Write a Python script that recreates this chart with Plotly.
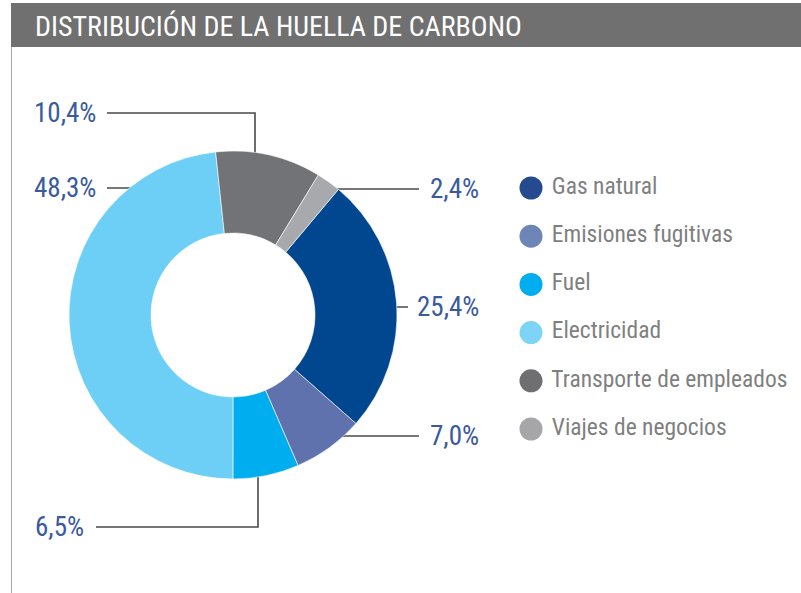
import plotly.graph_objects as go

# ---- data ----
categories = ["Gas natural", "Emisiones fugitivas", "Fuel", "Electricidad",
              "Transporte de empleados", "Viajes de negocios"]
values = [25.4, 7.0, 6.5, 48.3, 10.4, 2.4]
slice_colors = ["#00478f", "#5f72ae", "#00adef", "#6dcff6", "#727376", "#a7a9ac"]
legend_colors = ["#254a90", "#6e86b7", "#00aeef", "#7dd4f7", "#6f6f71", "#a6a6a8"]
title_text = "DISTRIBUCIÓN DE LA HUELLA DE CARBONO"

W, H = 801, 593
FONT = "Liberation Sans Narrow, Roboto Condensed, Arial Narrow, sans-serif"

# ---- layout helpers (pixel layout of the donut and label leaders) ----
cx, cy, R = 233, 315, 164
leaders = {
    "Gas natural":            dict(tx=415, ty=307, side="left",  pts=[(367, 307), (408, 307)]),
    "Emisiones fugitivas":    dict(tx=428, ty=436, side="left",  pts=[(318, 436), (419, 436)]),
    "Fuel":                   dict(tx=86,  ty=527, side="right", pts=[(96, 527), (258, 527), (258, 454)]),
    "Electricidad":           dict(tx=98,  ty=188, side="right", pts=[(107, 188), (157, 188)]),
    "Transporte de empleados": dict(tx=98, ty=113, side="right", pts=[(107, 113), (255, 113), (255, 173)]),
    "Viajes de negocios":     dict(tx=428, ty=189, side="left",  pts=[(318, 189), (419, 189)]),
}

fig = go.Figure()

fig.add_trace(go.Pie(
    labels=categories, values=values, hole=0.5, sort=False,
    direction="clockwise", rotation=40,
    marker=dict(colors=slice_colors, line=dict(color="white", width=0.6)),
    textinfo="none", showlegend=False,
    domain=dict(x=[(cx - R) / W, (cx + R) / W], y=[(H - cy - R) / H, (H - cy + R) / H]),
))

for cat in categories:
    L = leaders[cat]
    xs = [p[0] for p in L["pts"]]
    ys = [p[1] for p in L["pts"]]
    fig.add_trace(go.Scatter(x=xs, y=ys, mode="lines", xaxis="x", yaxis="y",
                             line=dict(color="#4a4a4a", width=1.6),
                             hoverinfo="skip", showlegend=False))

for cat, v in zip(categories, values):
    L = leaders[cat]
    fig.add_annotation(x=L["tx"], y=L["ty"], xref="x", yref="y",
                       text=f"{v:.1f}".replace(".", ",") + "%",
                       showarrow=False, xanchor=L["side"], yanchor="middle",
                       font=dict(family=FONT, size=27, color="#3a5a9e"))

# custom legend (circles + text) on its own categorical axis
fig.add_trace(go.Scatter(
    x=[0] * len(categories), y=categories, xaxis="x2", yaxis="y2",
    mode="markers+text", text=[" " + c for c in categories], textposition="middle right",
    marker=dict(size=23, color=legend_colors),
    textfont=dict(family=FONT, size=23.5, color="#7f7f7f"),
    hoverinfo="skip", showlegend=False, cliponaxis=False,
))

lg_top, lg_step = 188, 48.2
n = len(categories)
lg_y0 = H - (lg_top - lg_step / 2 + lg_step * n)
lg_y1 = H - (lg_top - lg_step / 2)

fig.update_layout(
    width=W, height=H, margin=dict(l=0, r=0, t=0, b=0),
    paper_bgcolor="white", plot_bgcolor="rgba(0,0,0,0)",
    xaxis=dict(range=[0, W], domain=[0, 1], visible=False, fixedrange=True),
    yaxis=dict(range=[H, 0], domain=[0, 1], visible=False, fixedrange=True),
    xaxis2=dict(range=[0, 1], domain=[531 / W, 1], visible=False, fixedrange=True, anchor="y2"),
    yaxis2=dict(categoryorder="array", categoryarray=categories, range=[n - 0.5, -0.5],
                domain=[lg_y0 / H, lg_y1 / H], visible=False, fixedrange=True, anchor="x2"),
    shapes=[
        dict(type="rect", xref="paper", yref="paper", x0=11 / W, x1=1, y0=1 - 47 / H, y1=1 - 3 / H,
             fillcolor="#707070", line=dict(width=0), layer="below"),
        dict(type="line", xref="paper", yref="paper", x0=11.5 / W, x1=11.5 / W, y0=0, y1=1 - 47 / H,
             line=dict(color="#a8a8a8", width=1)),
    ],
    annotations=list(fig.layout.annotations) + [
        dict(x=33 / W, y=1 - 26 / H, xref="paper", yref="paper", text=title_text,
             showarrow=False, xanchor="left", yanchor="middle",
             font=dict(family=FONT, size=28, color="white")),
    ],
)

fig.write_html("out.html", config={"displayModeBar": False},
               post_script="document.body.style.margin='0';document.body.style.overflow='hidden';")
